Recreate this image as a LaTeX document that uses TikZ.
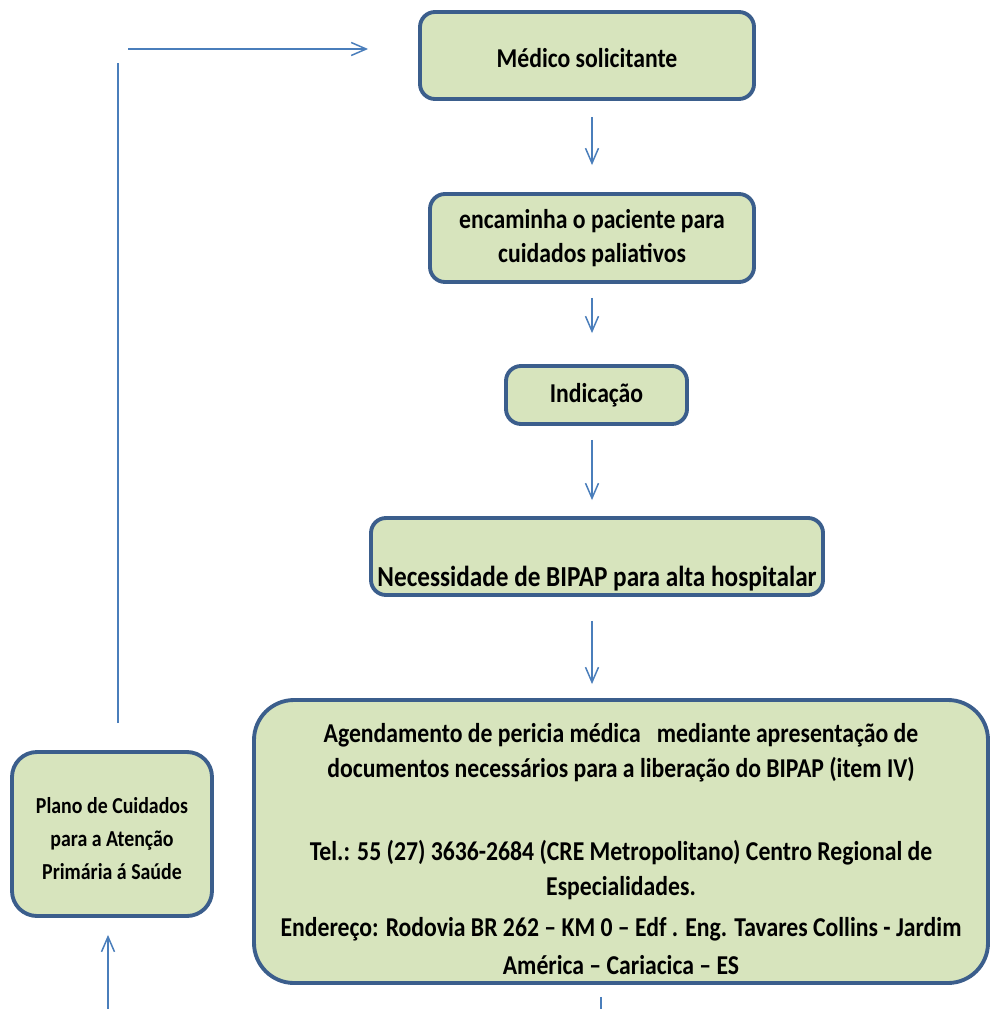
\documentclass[tikz,border=0pt]{standalone}
\usepackage{fontspec}
\setmainfont{Carlito}[FakeStretch=0.87]
\usetikzlibrary{arrows.meta,positioning}
\definecolor{boxfill}{HTML}{D7E4BD}
\definecolor{boxline}{HTML}{3B5E8C}
\definecolor{arrline}{HTML}{4A7EBB}
\tikzset{%
    >={Straight Barb[length=3mm,width=2.6mm]},
    box/.style={draw=boxline,fill=boxfill,line width=2.2pt,rounded corners=3mm,
        align=center,inner sep=0pt,font=\fontsize{15.5}{19.8}\selectfont\bfseries},
    arr/.style={draw=arrline,line width=0.85pt},
    rc/.style={rounded corners=#1}
}
\begin{document}
\begin{tikzpicture}
            \useasboundingbox (0,0) rectangle (19.82,-20.18);
            \node [box,minimum width=6.68cm,minimum height=1.74cm] (medico) at (11.74,-1.11) {\rule{0pt}{0.5cm}Médico solicitante};
            \node [box,minimum width=6.48cm,minimum height=1.76cm] (encam) at (11.84,-4.76) {encaminha o paciente para\\cuidados paliativos};
            \node [box,minimum width=3.62cm,minimum height=1.16cm] (indic) at (11.93,-7.9) {Indicação};
            \node [box,minimum width=9.04cm,minimum height=1.54cm,font=\fontsize{16.5}{19.8}\selectfont\bfseries] (bipap) at (11.94,-11.13)
            {\strut\\[0.1cm]Necessidade de BIPAP para alta hospitalar};
            \node [box,rc=8mm,minimum width=14.68cm,minimum height=5.66cm] (agenda) at (12.42,-16.83)
            {\rule{0pt}{0.7cm}Agendamento de pericia médica \ \ mediante apresentação de\\
             documentos necessários para a liberação do BIPAP (item IV)\\[0.96cm]
             Tel.: 55 (27) 3636-2684 (CRE Metropolitano) Centro Regional de\\
             Especialidades.\\[0.12cm]
             Endereço: Rodovia BR 262 – KM 0 – Edf . Eng. Tavares Collins - Jardim\\[0.08cm]
             América – Cariacica – ES};
            \node [box,rc=5mm,minimum width=4.0cm,minimum height=3.28cm,
                font=\fontsize{13}{19}\selectfont\bfseries] (plano) at (2.24,-16.68)
            {\rule{0pt}{0.5cm}Plano de Cuidados\\para a Atenção\\Primária á Saúde};
            %%%%%
            \coordinate (turn) at (2.36,-0.98);
            \coordinate (bot-l) at (2.16,-20.18);
            \coordinate (bot-r) at (12.02,-20.18);
            \draw[arr,->,shorten <=0.32cm,shorten >=0.54cm] (medico.south -| encam.north) -- (encam.north);
            \draw[arr,->,shorten <=0.28cm,shorten >=0.62cm] (encam.south) -- (indic.north -| encam.south);
            \draw[arr,->,shorten <=0.28cm,shorten >=0.32cm] (indic.south -| encam.south) -- (bipap.north -| encam.south);
            \draw[arr,->,shorten <=0.48cm,shorten >=0.28cm] (bipap.south -| encam.south) -- (agenda.north -| encam.south);
            \draw[arr,shorten <=0.24cm] (agenda.south -| bot-r) -- (bot-r);
            \draw[arr,->,shorten >=0.34cm] (bot-l) -- (plano.south -| bot-l);
            \draw[arr,shorten <=0.54cm,shorten >=0.28cm] (plano.north -| turn) -- (turn);
            \draw[arr,->,shorten <=0.2cm,shorten >=1.0cm] (turn) -- (medico.west |- turn);
\end{tikzpicture}
\end{document}
